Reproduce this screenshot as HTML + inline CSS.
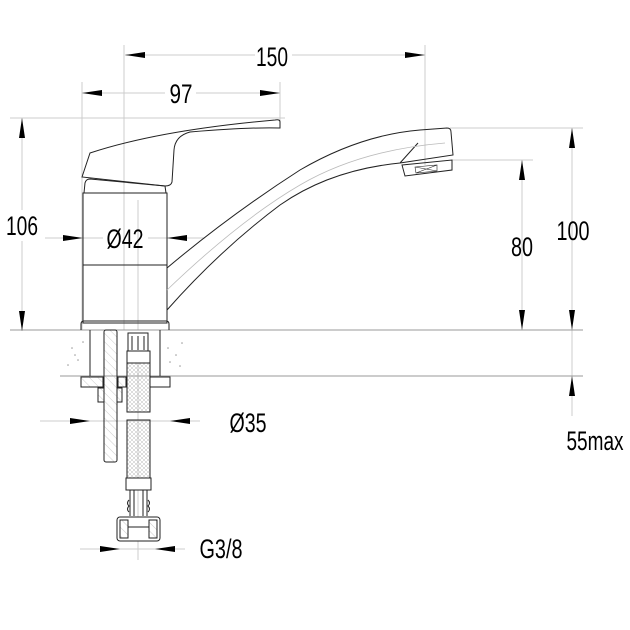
<!DOCTYPE html>
<html><head><style>
html,body{margin:0;padding:0;background:#fff;width:630px;height:630px;overflow:hidden}
svg{display:block}
text{font-family:"Liberation Sans",sans-serif;fill:#000}
</style></head><body>
<svg width="630" height="630" viewBox="0 0 630 630" xmlns="http://www.w3.org/2000/svg">
<defs>
<pattern id="hatch" width="6" height="6" patternUnits="userSpaceOnUse" patternTransform="rotate(-45)">
<line x1="0" y1="0" x2="0" y2="6" stroke="#aaa" stroke-width="0.6"/></pattern>
<pattern id="mesh" width="4" height="4" patternUnits="userSpaceOnUse">
<path d="M0 0L4 4M4 0L0 4" stroke="#bbb" stroke-width="0.5"/></pattern>
</defs>
<g stroke="#ccc" stroke-width="1" fill="none">
<line x1="124" y1="45" x2="124" y2="330"/>
<line x1="425" y1="45" x2="425" y2="165"/>
<line x1="82" y1="82" x2="82" y2="330"/>
<line x1="280" y1="82" x2="280" y2="128"/>
<line x1="10" y1="118" x2="285" y2="118"/>
<line x1="450" y1="128" x2="583" y2="128"/>
<line x1="452" y1="160" x2="533" y2="160"/>
<line x1="22" y1="118" x2="22" y2="210"/><line x1="22" y1="241" x2="22" y2="331"/>
<line x1="572" y1="128" x2="572" y2="416"/>
<line x1="522" y1="160" x2="522" y2="330"/>
<line x1="125" y1="55" x2="255" y2="55"/><line x1="292" y1="55" x2="425" y2="55"/>
<line x1="82" y1="93" x2="165" y2="93"/><line x1="196" y1="93" x2="280" y2="93"/>
<line x1="45" y1="238" x2="103" y2="238"/><line x1="148" y1="238" x2="205" y2="238"/>
<line x1="40" y1="421" x2="200" y2="421"/>
<line x1="80" y1="549" x2="185" y2="549"/>
<line x1="138" y1="200" x2="138" y2="330"/>
<line x1="138" y1="335" x2="138" y2="560"/>
</g>
<g stroke="#999" stroke-width="1">
<line x1="10" y1="330" x2="583" y2="330"/>
<line x1="60" y1="376" x2="583" y2="376"/>
</g>
<g fill="#000">
<polygon points="125,55 145,52 145,58"/><polygon points="425,55 405,52 405,58"/>
<polygon points="82,93 102,90 102,96"/><polygon points="280,93 260,90 260,96"/>
<polygon points="22,118 19,138 25,138"/><polygon points="22,331 19,311 25,311"/>
<polygon points="572,128 569,148 575,148"/><polygon points="572,330 569,310 575,310"/>
<polygon points="522,160 519,180 525,180"/><polygon points="522,330 519,310 525,310"/>
<polygon points="572,376 569,396 575,396"/>
<polygon points="83,238 63,235 63,241"/><polygon points="167,238 187,235 187,241"/>
<polygon points="90,421 70,418 70,424"/><polygon points="170,421 190,418 190,424"/>
<polygon points="120,549 100,546 100,552"/><polygon points="155,549 175,546 175,552"/>
</g>
<g stroke="#222" stroke-width="1" fill="none">
<rect x="83" y="193" width="84" height="130"/>
<line x1="83" y1="265" x2="167" y2="265"/>
<path d="M81 330 L81 324 Q81 321 84 321 L166 321 Q169 321 169 324 L169 330"/>
<path d="M84 193 L85 183 Q86 179 90 179 L165 186 L166 193"/>
<path d="M82 177 L90 153 Q160 130 275 120 Q280 119 280 122 L280 128 Q250 127 190 132 Q175 136 174 150 L172 182 Q171 186 165 186 Z"/>
<path d="M167 268 Q230 215 300 170 Q360 135 420 130 L447 128 Q451 128 451 132 L453 155 L400 163 Q330 170 280 205 Q220 250 167 310"/>
<path d="M400 163 L418 143"/>
<path d="M402 165 L452 160 L452 170 L405 176 Z"/>
<path d="M415 167 L437 165 L437 171 L416 173 Z M415 167 L437 171 M437 165 L416 173" stroke-width="0.6"/>
</g>
<path d="M167 290 Q240 220 300 185 Q360 150 445 143" stroke="#bbb" stroke-width="0.8" fill="none"/>
<g stroke="#222" stroke-width="1" fill="none">
<line x1="90" y1="330" x2="90" y2="376"/><line x1="160" y1="330" x2="160" y2="376"/>
</g>
<g fill="#999">
<circle cx="72" cy="348" r="0.8"/><circle cx="78" cy="360" r="0.8"/><circle cx="68" cy="365" r="0.8"/><circle cx="83" cy="342" r="0.8"/><circle cx="75" cy="355" r="0.8"/>
<circle cx="168" cy="348" r="0.8"/><circle cx="176" cy="355" r="0.8"/><circle cx="180" cy="366" r="0.8"/><circle cx="170" cy="362" r="0.8"/><circle cx="182" cy="343" r="0.8"/>
</g>
<g stroke="#222" stroke-width="1">
<rect x="81" y="377" width="22" height="10" fill="url(#hatch)"/>
<rect x="118" y="377" width="8" height="10" fill="url(#hatch)"/>
<rect x="150" y="377" width="20" height="10" fill="#fff"/>
<rect x="98" y="388" width="6" height="14" fill="url(#hatch)"/>
<rect x="117" y="388" width="5" height="14" fill="url(#hatch)"/>
<rect x="104" y="330" width="13" height="132" rx="2" fill="url(#hatch)"/>
</g>
<g stroke="#222" stroke-width="1">
<rect x="128" y="333" width="20" height="18" fill="#fff"/>
<line x1="132" y1="336" x2="132" y2="350"/><line x1="138" y1="336" x2="138" y2="350"/><line x1="144" y1="336" x2="144" y2="350"/>
<rect x="127" y="351" width="23" height="12" fill="#fff"/>
<rect x="127" y="363" width="23" height="49" fill="url(#mesh)"/>
<rect x="127" y="420" width="23" height="58" fill="url(#mesh)"/>
<rect x="126" y="478" width="25" height="12" fill="#fff"/>
<path d="M130 490 L130 516 M147 490 L147 516 M134 490 L134 516 M143 490 L143 516" fill="none"/>
<path d="M129 500 q-3 3 0 6 q-3 3 0 6 M148 500 q3 3 0 6 q3 3 0 6" fill="none"/>
<rect x="117" y="517" width="43" height="24" rx="3" fill="#fff"/>
<rect x="120" y="520" width="8" height="18" fill="url(#hatch)"/>
<rect x="149" y="520" width="8" height="18" fill="url(#hatch)"/>
<line x1="128" y1="527" x2="149" y2="527"/>
</g>
<g font-size="27">
<text x="272" y="66" text-anchor="middle" textLength="32" lengthAdjust="spacingAndGlyphs">150</text>
<text x="181" y="103" text-anchor="middle" textLength="23" lengthAdjust="spacingAndGlyphs">97</text>
<text x="22" y="235" text-anchor="middle" textLength="32" lengthAdjust="spacingAndGlyphs">106</text>
<text x="125" y="248" text-anchor="middle" textLength="37" lengthAdjust="spacingAndGlyphs">Ø42</text>
<text x="522" y="256" text-anchor="middle" textLength="22" lengthAdjust="spacingAndGlyphs">80</text>
<text x="573" y="240" text-anchor="middle" textLength="33" lengthAdjust="spacingAndGlyphs">100</text>
<text x="248" y="432" text-anchor="middle" textLength="37" lengthAdjust="spacingAndGlyphs">Ø35</text>
<text x="595" y="450" text-anchor="middle" textLength="57" lengthAdjust="spacingAndGlyphs">55max</text>
<text x="221" y="558" text-anchor="middle" textLength="43" lengthAdjust="spacingAndGlyphs">G3/8</text>
</g>
</svg>
</body></html>
